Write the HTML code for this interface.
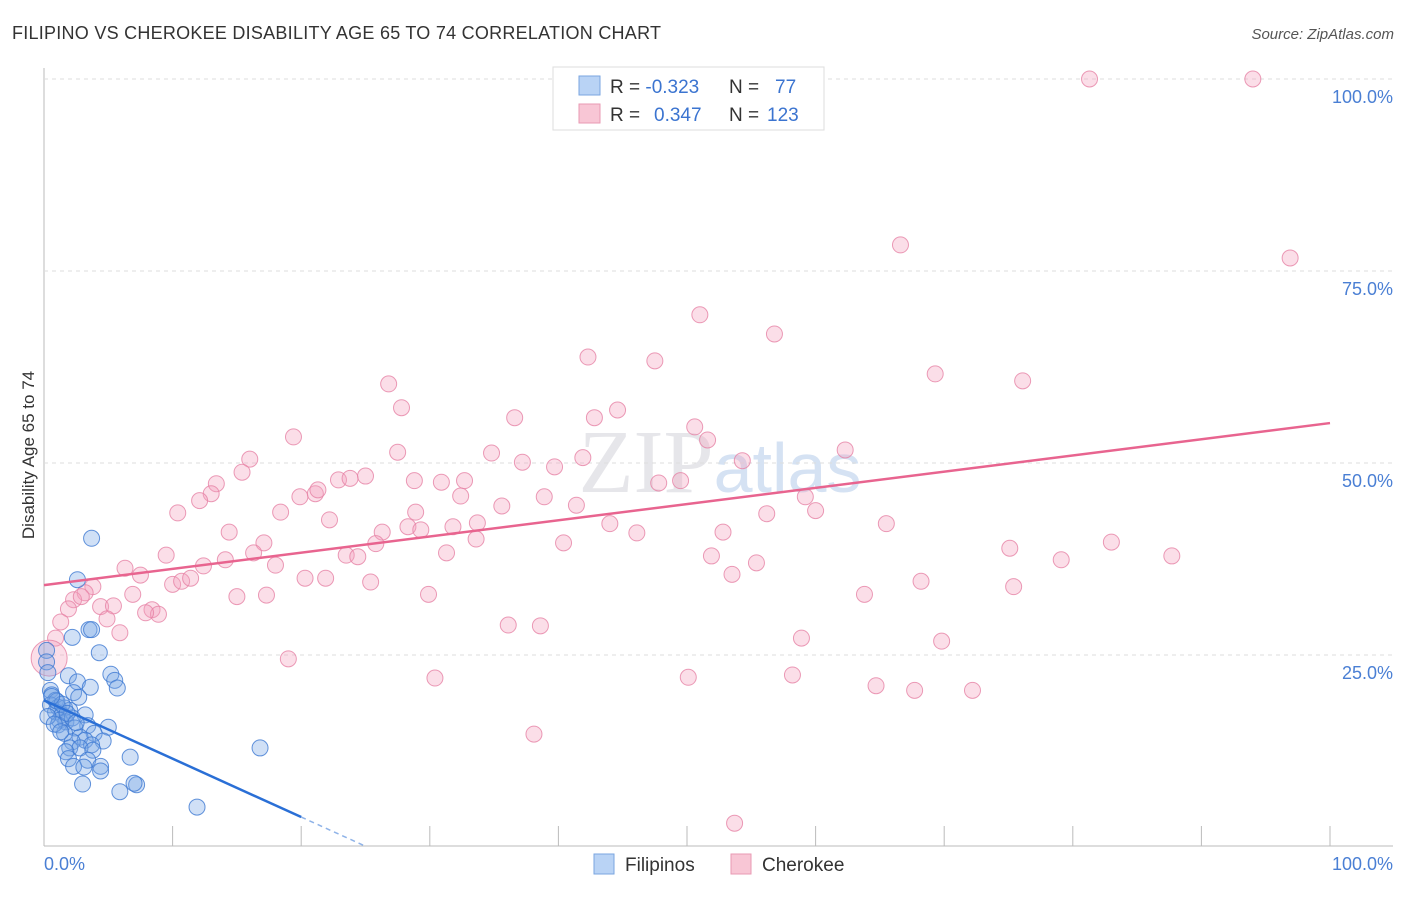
<!DOCTYPE html>
<html><head><meta charset="utf-8"><style>
body{margin:0;background:#fff;font-family:"Liberation Sans",sans-serif;}
</style></head><body>
<svg id="chart" width="1406" height="892" xmlns="http://www.w3.org/2000/svg">
<text x="12" y="39" font-size="18" fill="#333" textLength="649" lengthAdjust="spacing">FILIPINO VS CHEROKEE DISABILITY AGE 65 TO 74 CORRELATION CHART</text>
<text x="1394" y="39" font-size="15" fill="#555" font-style="italic" text-anchor="end">Source: ZipAtlas.com</text>
<text x="720" y="492" font-size="90" fill="#e6e6ea" text-anchor="middle" font-family="Liberation Serif">ZIP<tspan fill="#d5e2f3" font-family="Liberation Sans" font-size="70">atlas</tspan></text>
<g id="grid"></g><g id="pts"></g><g id="lines"></g>
<text x="34" y="455" font-size="17" fill="#333" text-anchor="middle" transform="rotate(-90 34 455)">Disability Age 65 to 74</text>
<text x="44" y="870" font-size="18" fill="#4a7fd4">0.0%</text>
<text x="1393" y="870" font-size="18" fill="#4a7fd4" text-anchor="end">100.0%</text>
<g>
<rect x="553" y="67" width="271" height="63" fill="#fff" stroke="#ddd"/>
<rect x="579" y="76" width="21" height="19" fill="#b9d3f5" stroke="#7aa6e0"/>
<rect x="579" y="104" width="21" height="19" fill="#f8c6d5" stroke="#e89ab3"/>
<text x="610" y="93" font-size="19" fill="#333">R = <tspan fill="#3b74d0">-0.323</tspan><tspan x="729">N = </tspan><tspan x="775" fill="#3b74d0">77</tspan></text>
<text x="610" y="121" font-size="19" fill="#333">R = <tspan x="654" fill="#3b74d0">0.347</tspan><tspan x="729">N = </tspan><tspan x="767" fill="#3b74d0">123</tspan></text>
</g>
<g>
<rect x="594" y="854" width="20" height="20" fill="#b9d3f5" stroke="#7aa6e0"/>
<text x="625" y="871" font-size="19" fill="#333">Filipinos</text>
<rect x="731" y="854" width="20" height="20" fill="#f8c6d5" stroke="#e89ab3"/>
<text x="762" y="871" font-size="19" fill="#333">Cherokee</text>
</g>
</svg>
<script>
const yTicks=[25,50,75,100];
const yTickLabels=["25.0%","50.0%","75.0%","100.0%"];
const xTicks=[0,10,20,30,40,50,60,70,80,90,100];
const blueX=[3.7,2.6,3.5,3.7,2.2,4.3,0.2,0.2,0.3,1.9,5.2,5.5,5.7,2.6,3.6,0.5,0.6,2.3,2.7,0.9,0.5,1.1,1.6,2.0,0.9,1.4,3.2,1.2,1.7,2.2,1.1,3.4,5.0,2.4,1.6,3.9,2.8,3.2,2.2,4.6,3.7,2.0,2.8,3.8,1.7,6.7,3.4,1.9,2.3,4.4,4.4,3.1,16.8,3.0,7.2,5.9,11.9,1.0,1.4,0.3,0.8,1.8,2.5,1.3,0.6,7.0];
const blueY=[40.2,34.8,28.3,28.3,27.3,25.3,25.6,24.1,22.7,22.3,22.5,21.7,20.7,21.5,20.8,20.4,19.8,20.1,19.5,19.1,18.5,18.2,18.1,17.8,17.6,17.2,17.2,16.5,16.3,16.8,15.9,15.8,15.6,15.5,14.8,14.8,14.3,13.9,13.7,13.8,13.3,12.9,12.9,12.6,12.4,11.7,11.3,11.5,10.5,10.5,9.9,10.4,12.9,8.2,8.1,7.2,5.2,19.0,18.6,17.0,16.0,17.4,16.2,15.0,19.6,8.3];
const pinkX=[81.3,94.0,66.6,96.9,51.0,56.8,42.3,47.5,69.3,76.1,26.8,27.8,36.6,42.8,44.6,50.6,51.6,19.4,27.5,34.8,37.2,39.7,41.9,54.3,62.3,16.0,15.4,25.0,22.9,23.8,13.4,13.0,19.9,21.1,21.3,28.8,32.7,30.9,32.4,47.8,49.5,59.2,35.6,38.9,41.4,60.0,10.4,12.1,18.4,22.2,28.9,14.4,26.3,28.3,29.3,31.8,33.7,44.0,46.1,52.8,56.2,65.5,40.4,33.6,25.8,17.1,23.5,24.4,9.5,16.3,31.3,51.9,55.4,75.1,83.0,87.7,79.1,6.3,7.5,14.1,18.0,12.4,20.3,21.9,53.5,68.2,10.0,10.7,11.4,3.8,3.2,2.3,2.9,6.9,15.0,17.3,25.4,75.4,63.8,29.9,1.9,4.4,5.4,8.4,8.9,7.9,4.9,5.9,1.3,0.9,58.9,69.8,36.1,38.6,19.0,30.4,50.1,58.2,64.7,67.7,72.2,38.1,53.7];
const pinkY=[100,100,78.4,76.7,69.3,66.8,63.8,63.3,61.6,60.7,60.3,57.2,55.9,55.9,56.9,54.7,53.0,53.4,51.4,51.3,50.1,49.5,50.7,50.3,51.7,50.5,48.8,48.3,47.8,48.0,47.3,46.0,45.6,46.0,46.5,47.7,47.7,47.5,45.7,47.4,47.7,45.6,44.4,45.6,44.5,43.8,43.5,45.1,43.6,42.6,43.6,41.0,41.0,41.7,41.3,41.7,42.2,42.1,40.9,41.0,43.4,42.1,39.6,40.1,39.5,39.6,38.0,37.8,38.0,38.3,38.3,37.9,37.0,38.9,39.7,37.9,37.4,36.3,35.4,37.4,36.7,36.6,35.0,35.0,35.5,34.6,34.2,34.6,35.0,33.9,33.1,32.2,32.6,32.9,32.6,32.8,34.5,33.9,32.9,32.9,31.0,31.3,31.4,30.9,30.3,30.5,29.7,27.9,29.3,27.2,27.2,26.8,28.9,28.8,24.5,22.0,22.1,22.4,21.0,20.4,20.4,14.7,3.1];
const blueTrend=[19.1,-0.76];
const pinkTrend=[34.1,0.211];
const NS="http://www.w3.org/2000/svg";
const sx=v=>44+v*12.86, sy=v=>847-v*7.68;
function mk(t,a,p){const e=document.createElementNS(NS,t);for(const k in a)e.setAttribute(k,a[k]);p.appendChild(e);return e;}
const grid=document.getElementById('grid'),pts=document.getElementById('pts'),lines=document.getElementById('lines');
const ax=mk('line',{x1:44,y1:68,x2:44,y2:846,stroke:'#bbb'},grid);


const bx=mk('line',{x1:44,y1:846,x2:1393,y2:846,stroke:'#bbb'},grid);


yTicks.forEach((t,i)=>{
 const g=mk('line',{x1:44,y1:sy(t),x2:1393,y2:sy(t),stroke:'#ddd','stroke-dasharray':'4,4'},grid);
 
 
 const l=mk('text',{x:1393,y:sy(t)+24,'font-size':18,fill:'#4a7fd4','text-anchor':'end'},grid);
 l.textContent=yTickLabels[i];
 
 
});
xTicks.forEach(t=>{
 const k=mk('line',{x1:sx(t),y1:826,x2:sx(t),y2:846,stroke:'#bbb'},grid);
 
 
});
pinkX.forEach((x,i)=>{
 const c=mk('circle',{cx:sx(x),cy:sy(pinkY[i]),r:8,fill:'rgba(244,160,188,0.35)',stroke:'rgba(230,130,165,0.8)','stroke-width':1},pts);
 
 
});
const big=mk('circle',{cx:sx(0.4),cy:sy(24.6),r:18,fill:'rgba(244,160,188,0.35)',stroke:'rgba(230,130,165,0.8)'},pts);


blueX.forEach((x,i)=>{
 const c=mk('circle',{cx:sx(x),cy:sy(blueY[i]),r:8,fill:'rgba(120,165,230,0.35)',stroke:'rgba(60,120,210,0.8)','stroke-width':1},pts);
 
 
});
const pl=mk('line',{x1:sx(0),y1:sy(pinkTrend[0]),x2:sx(100),y2:sy(pinkTrend[0]+pinkTrend[1]*100),stroke:'#e8648f','stroke-width':2.5},lines);


const bl=mk('line',{x1:sx(0),y1:sy(blueTrend[0]),x2:sx(20),y2:sy(blueTrend[0]+blueTrend[1]*20),stroke:'#2a6fd6','stroke-width':2.5},lines);


const bd=mk('line',{x1:sx(20),y1:sy(blueTrend[0]+blueTrend[1]*20),x2:sx(25),y2:sy(blueTrend[0]+blueTrend[1]*25),stroke:'#8fb3e8','stroke-width':1.5,'stroke-dasharray':'5,4'},lines);


</script>
</body></html>
